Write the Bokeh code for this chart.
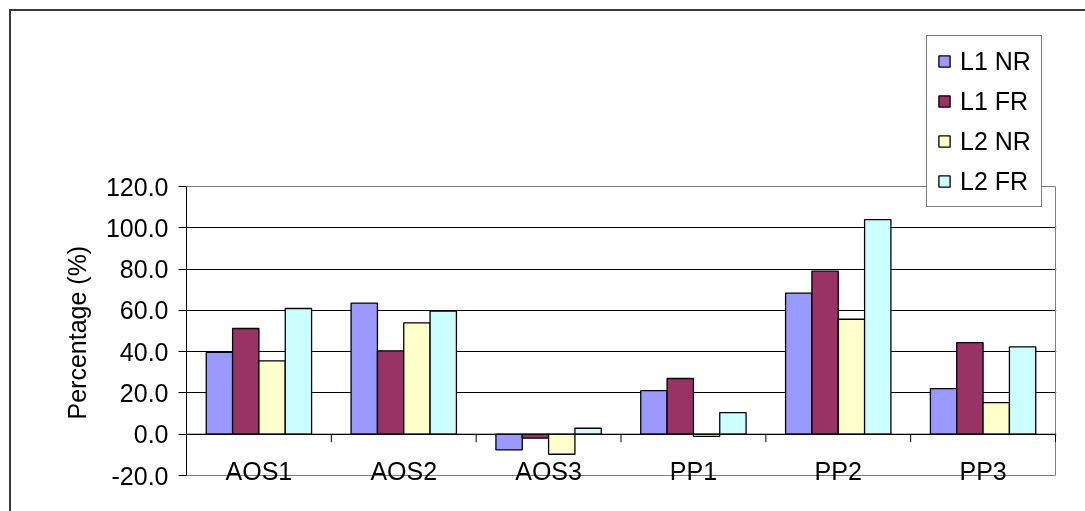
from bokeh.plotting import figure
from bokeh.models import (ColumnDataSource, Range1d, FixedTicker,
                          PrintfTickFormatter, Legend, LegendItem, Title)
from bokeh.embed import file_html
from bokeh.resources import INLINE

# Groups on the category axis and the four series shown in each group
categories = ["AOS1", "AOS2", "AOS3", "PP1", "PP2", "PP3"]
series_names = ["L1 NR", "L1 FR", "L2 NR", "L2 FR"]
l1_nr = [39.6, 63.5, -7.6, 21.1, 68.3, 22.1]
l1_fr = [51.2, 40.4, -1.9, 27.0, 79.0, 44.4]
l2_nr = [35.5, 53.9, -9.7, -1.0, 55.7, 15.3]
l2_fr = [60.9, 59.7, 2.9, 10.5, 104.0, 42.3]
y_ticks = [-20, 0, 20, 40, 60, 80, 100, 120]

colors = ["#9999FF", "#993366", "#FFFFCC", "#CCFFFF"]
FONT = "Liberation Sans"
FSIZE = "25px"

# Layout (pixels on the canvas, which starts inside the chart border)
CANVAS_W, CANVAS_H = 1074, 500
BORDER_L, BORDER_R, BORDER_T, BORDER_B = 175, 29, 20, 35
FRAME_W = CANVAS_W - BORDER_L - BORDER_R          # 870
FRAME_H = CANVAS_H - BORDER_T - BORDER_B          # 445
PLOT_W, PLOT_H = 869, 289                          # plot area inside the frame
PLOT_TOP_GAP = 155                                 # frame top -> plot area top
Y_TITLE_OFFSET = 57                                # frame bottom -> start of y title

ncat = len(categories)
y_span = y_ticks[-1] - y_ticks[0]
units_per_px = y_span / PLOT_H
plot_bottom_gap = FRAME_H - PLOT_H - PLOT_TOP_GAP
y_start = y_ticks[0] - plot_bottom_gap * units_per_px
y_end = y_ticks[-1] + PLOT_TOP_GAP * units_per_px
x_end = ncat * FRAME_W / PLOT_W

p = figure(width=CANVAS_W, height=CANVAS_H,
           x_range=Range1d(0, x_end), y_range=Range1d(y_start, y_end),
           output_backend="svg", toolbar_location=None,
           min_border_left=BORDER_L, min_border_right=BORDER_R,
           min_border_top=BORDER_T, min_border_bottom=BORDER_B)
p.background_fill_color = "white"
p.border_fill_color = "white"
p.outline_line_color = None
# Chart border: a 2px line on the left and top edges, running off the page
p.styles = {"position": "fixed", "left": "11px", "top": "11px",
            "box-shadow": "8px 8px 0 10px #3a3a3a"}

# Horizontal gridlines
p.xgrid.visible = False
p.ygrid.ticker = FixedTicker(ticks=y_ticks[1:-1])
p.ygrid.grid_line_color = "black"
p.ygrid.grid_line_width = 1

# Plot area border
p.quad(left=[0], right=[ncat], bottom=[y_ticks[0]], top=[y_ticks[-1]],
       fill_color=None, line_color="#808080", line_width=1)

# Clustered bars: gap width of 1.5 bar widths between groups
n = len(series_names)
bar_w = 1.0 / (n + 1.5)
series_vals = [l1_nr, l1_fr, l2_nr, l2_fr]
renderers = []
for i, (vals, col) in enumerate(zip(series_vals, colors)):
    offset = (i - (n - 1) / 2) * bar_w
    src = ColumnDataSource(dict(x=[k + 0.5 + offset for k in range(ncat)], top=vals))
    r = p.vbar(x="x", top="top", bottom=0, width=bar_w, source=src,
               fill_color=col, line_color="black", line_width=1.3)
    renderers.append(r)

# Category axis line at zero with tick marks between groups
p.segment(x0=[0], x1=[ncat], y0=[0], y1=[0], line_color="black", line_width=1)
bounds = list(range(ncat + 1))
p.segment(x0=bounds, x1=bounds, y0=[0] * len(bounds), y1=[-8 * units_per_px] * len(bounds),
          line_color="black", line_width=1)

# Y axis
ya = p.yaxis[0]
ya.bounds = (y_ticks[0], y_ticks[-1])
ya.ticker = FixedTicker(ticks=y_ticks)
ya.formatter = PrintfTickFormatter(format="%.1f")
ya.major_label_text_font = FONT
ya.major_label_text_font_size = FSIZE
ya.major_label_text_color = "black"
ya.major_label_standoff = 10
ya.major_tick_out = 8
ya.major_tick_in = 0
ya.minor_tick_line_color = None
ya.axis_line_color = "black"
ya.major_tick_line_color = "black"

# Y axis title, placed along the plot area rather than the taller frame
y_title = Title(text="Percentage (%)", align="left", offset=Y_TITLE_OFFSET,
                text_font=FONT, text_font_size=FSIZE, text_font_style="normal",
                text_color="black", standoff=23)
p.add_layout(y_title, "left")

# X axis: category names at group centres, lifted up next to the zero line
xa = p.xaxis[0]
xa.ticker = FixedTicker(ticks=[k + 0.5 for k in range(ncat)])
xa.major_label_overrides = {k + 0.5: name for k, name in enumerate(categories)}
xa.axis_line_color = None
xa.major_tick_line_color = None
xa.minor_tick_line_color = None
xa.major_tick_out = 0
xa.major_tick_in = 0
xa.major_label_standoff = -20
xa.major_label_text_font = FONT
xa.major_label_text_font_size = FSIZE
xa.major_label_text_color = "black"

legend = Legend(items=[LegendItem(label=nm, renderers=[r])
                       for nm, r in zip(series_names, renderers)],
                location=(740, 269))
legend.border_line_color = "black"
legend.border_line_width = 1
legend.background_fill_color = "white"
legend.background_fill_alpha = 1
legend.label_text_font = FONT
legend.label_text_font_size = FSIZE
legend.label_text_color = "black"
legend.glyph_width = 14
legend.glyph_height = 14
legend.label_height = 30
legend.label_standoff = 9
legend.spacing = 10
legend.padding = 10
legend.margin = 0
p.add_layout(legend)

open("out.html", "w").write(file_html(p, INLINE))
